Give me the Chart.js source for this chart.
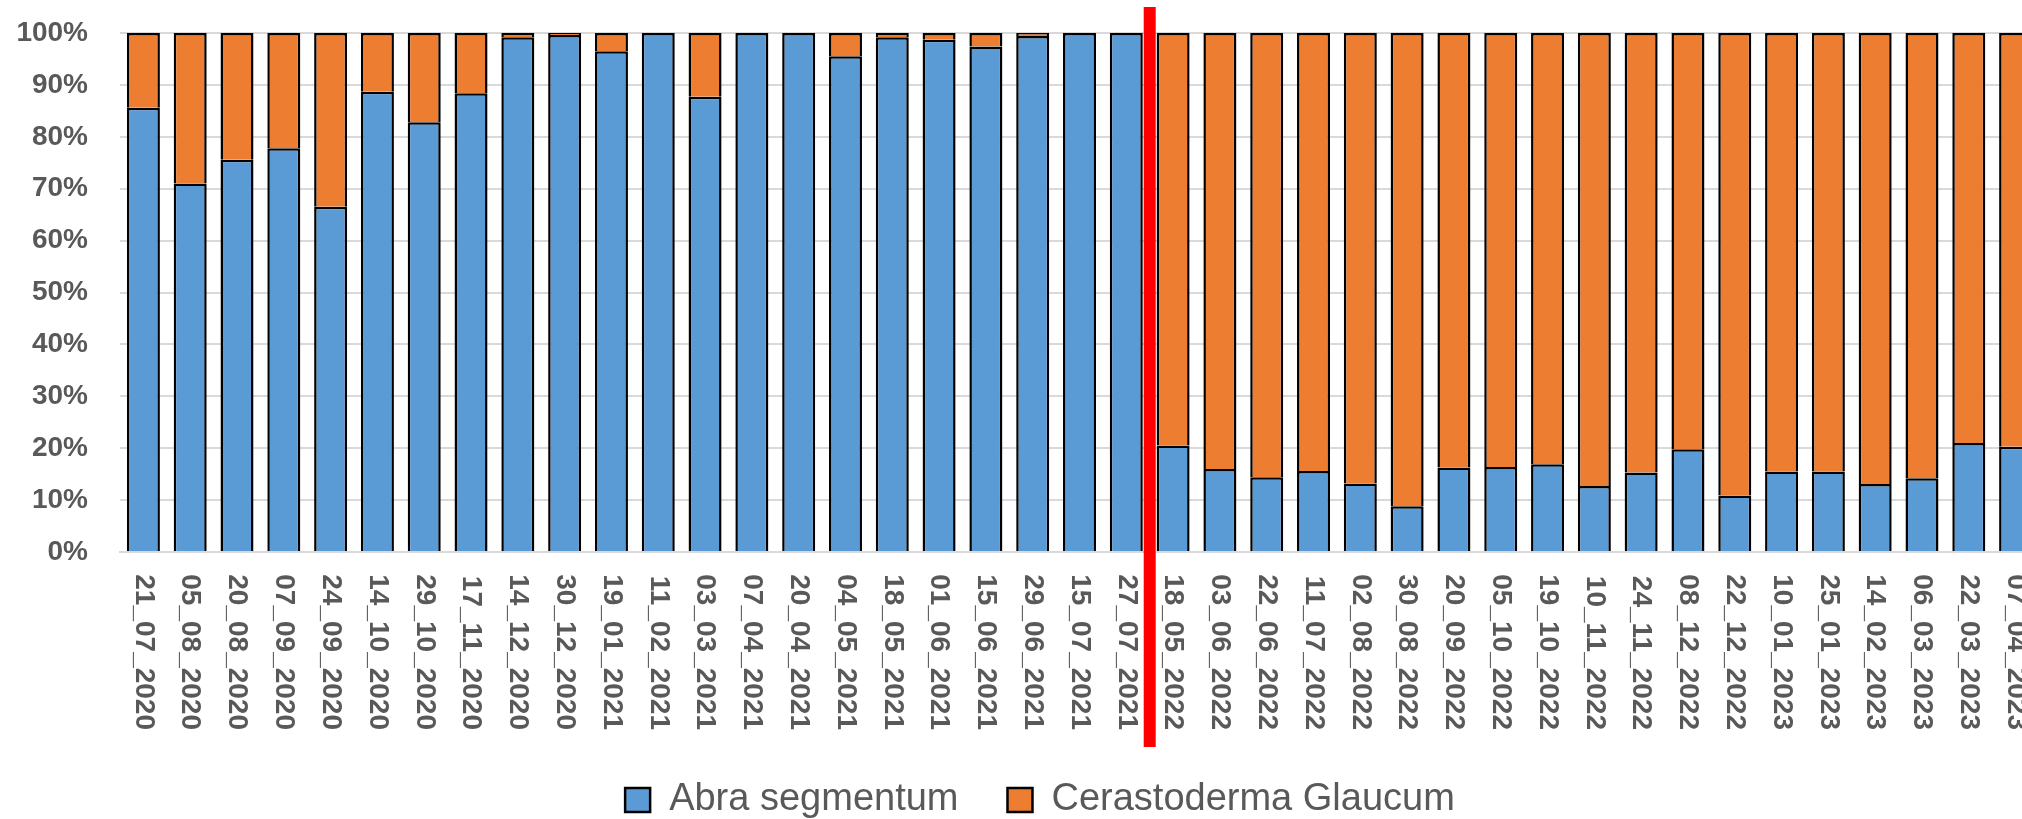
<!DOCTYPE html>
<html>
<head>
<meta charset="utf-8">
<script src="https://cdn.jsdelivr.net/npm/chart.js@4"></script>
<style>
  body { margin: 0; overflow: hidden; background: #fff; }
  #wrap { width: 2080px; height: 819px; position: relative; }
</style>
</head>
<body>
<div id="wrap"><canvas id="chart"></canvas></div>
<script>
const dates = [
  "21_07_2020", "05_08_2020", "20_08_2020", "07_09_2020", "24_09_2020", "14_10_2020", "29_10_2020",
  "17_11_2020", "14_12_2020", "30_12_2020", "19_01_2021", "11_02_2021", "03_03_2021", "07_04_2021",
  "20_04_2021", "04_05_2021", "18_05_2021", "01_06_2021", "15_06_2021", "29_06_2021", "15_07_2021",
  "27_07_2021", "18_05_2022", "03_06_2022", "22_06_2022", "11_07_2022", "02_08_2022", "30_08_2022",
  "20_09_2022", "05_10_2022", "19_10_2022", "10_11_2022", "24_11_2022", "08_12_2022", "22_12_2022",
  "10_01_2023", "25_01_2023", "14_02_2023", "06_03_2023", "22_03_2023", "07_04_2023"
];
const abra = [
  85.6, 71.0, 75.6, 77.8, 66.5, 88.7, 82.8, 88.4, 99.2, 99.6,
  96.5, 100, 87.7, 100, 100, 95.5, 99.2, 98.7, 97.4, 99.4, 100, 100,
  20.5, 16.0, 14.4, 15.6, 13.2, 8.8, 16.3, 16.4, 16.9, 12.7, 15.3, 19.8, 10.9,
  15.5, 15.5, 13.1, 14.2, 21.0, 20.3
];
const cerastoderma = [
  14.4, 29.0, 24.4, 22.2, 33.5, 11.3, 17.2, 11.6, 0.8, 0.4,
  3.5, 0, 12.3, 0, 0, 4.5, 0.8, 1.3, 2.6, 0.6, 0, 0,
  79.5, 84.0, 85.6, 84.4, 86.8, 91.2, 83.7, 83.6, 83.1, 87.3, 84.7, 80.2, 89.1,
  84.5, 84.5, 86.9, 85.8, 79.0, 79.7
];
const yTicks = [0, 10, 20, 30, 40, 50, 60, 70, 80, 90, 100];
// first sample after the break, the red line goes just before it
const breakAt = "18_05_2022";

const grey = "#595959";

// red separator between the two campaigns
const breakLine = {
  id: "breakLine",
  afterDraw(chart) {
    const x = chart.scales.x;
    const i = dates.indexOf(breakAt);
    const px = (x.getPixelForTick(i - 1) + x.getPixelForTick(i)) / 2;
    const ctx = chart.ctx;
    ctx.save();
    ctx.fillStyle = "#ff0000";
    ctx.fillRect(px - 6, 7, 12, 740);
    ctx.restore();
  }
};

new Chart(document.getElementById("chart"), {
  type: "bar",
  data: {
    labels: dates,
    datasets: [
      {
        label: "Abra segmentum",
        data: abra,
        backgroundColor: "#5b9bd5",
        borderColor: "#000",
        borderWidth: 2.5,
        barPercentage: 0.705,
        categoryPercentage: 1
      },
      {
        label: "Cerastoderma Glaucum",
        data: cerastoderma,
        backgroundColor: "#ed7d31",
        borderColor: "#000",
        borderWidth: 2.5,
        barPercentage: 0.705,
        categoryPercentage: 1
      }
    ]
  },
  options: {
    responsive: true,
    maintainAspectRatio: false,
    animation: false,
    layout: { padding: { top: 33, left: 0, right: 0, bottom: -10 } },
    plugins: {
      tooltip: { enabled: false },
      legend: {
        position: "bottom",
        labels: {
          color: grey,
          font: { family: "Liberation Sans", size: 38 },
          boxWidth: 25,
          boxHeight: 24,
          padding: 49
        }
      }
    },
    scales: {
      x: {
        stacked: true,
        grid: { display: false, drawTicks: false },
        border: { color: "#d9d9d9", width: 2 },
        ticks: {
          color: grey,
          font: { family: "Liberation Sans", size: 28, weight: "bold" },
          autoSkip: false,
          minRotation: -90,
          maxRotation: -90,
          padding: 178
        },
        afterFit(s) {
          s.height = 180;
          s.paddingLeft = 0;
          s.paddingRight = 0;
        }
      },
      y: {
        stacked: true,
        min: 0,
        max: 100,
        afterBuildTicks(s) { s.ticks = yTicks.map(v => ({ value: v })); },
        grid: { color: "#d9d9d9", lineWidth: 2, drawTicks: false },
        border: { display: false },
        ticks: {
          color: grey,
          font: { family: "Liberation Sans", size: 28, weight: "bold" },
          padding: 32,
          callback: v => v + "%"
        },
        afterFit(s) {
          s.width = 120;
          s.paddingTop = 0;
          s.paddingBottom = 0;
        }
      },
      y2: {
        type: "linear",
        position: "right",
        grid: { display: false, drawTicks: false },
        border: { display: false },
        ticks: { display: false },
        afterFit(s) { s.width = 41; }
      }
    }
  },
  plugins: [breakLine]
});
</script>
</body>
</html>
